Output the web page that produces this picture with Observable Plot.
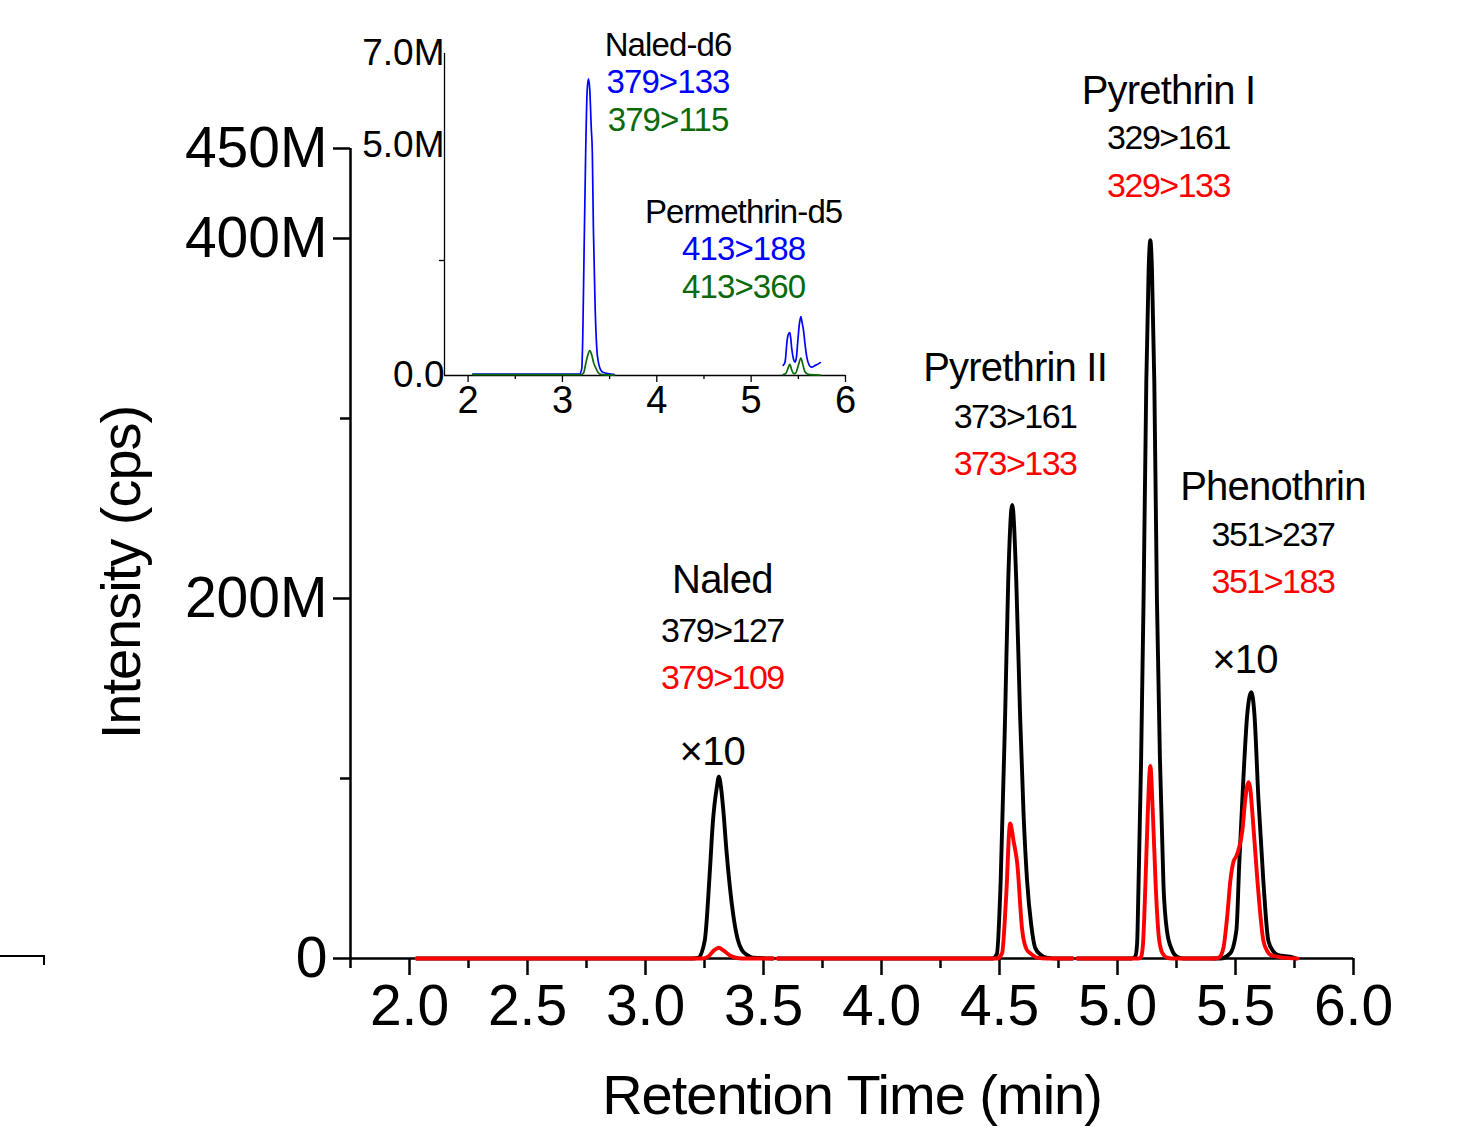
<!DOCTYPE html>
<html>
<head>
<meta charset="utf-8">
<script src="https://cdn.jsdelivr.net/npm/d3@7"></script>
<script src="https://cdn.jsdelivr.net/npm/@observablehq/plot@0.6"></script>
<style>
  html, body { margin: 0; padding: 0; background: white; }
  #wrap { position: relative; width: 1478px; height: 1129px; overflow: hidden; font-family: "Liberation Sans", Arial, sans-serif; }
  #main, #inset { position: absolute; left: 0; top: 0; }
  #wrap svg { font-family: "Liberation Sans", Arial, sans-serif; }
  #artifact { position: absolute; left: 0; top: 955px; width: 43px; height: 8px; border-top: 2px solid #000; border-right: 2px solid #000; }
</style>
</head>
<body>
<div id="wrap">
  <div id="main"></div>
  <div id="inset"></div>
  <div id="artifact"></div>
</div>
<script>
// ---------------- Main chart data (time in min, intensity in M cps) ----------------
const xMajorTicks = [2.0, 2.5, 3.0, 3.5, 4.0, 4.5, 5.0, 5.5, 6.0];
const xMinorTicks = [1.75, 2.25, 2.75, 3.25, 3.75, 4.25, 4.75, 5.25, 5.75];
const yMajorTicks = [0, 200, 400, 450];
const yMinorTicks = [100, 300];

// black trace (quantifier transitions), one array per acquisition window
const blackNaledWindow = [[2.03,0],[3.2,0],[3.222,0.3],[3.251,10],[3.272,47],[3.285,75],[3.302,95],[3.311,101],[3.32,95],[3.33,82],[3.343,60],[3.371,25],[3.39,11],[3.407,5],[3.43,2],[3.455,0.5],[3.54,0]];
const blackPyrethrinIIWindow = [[3.56,0],[4.47,0],[4.489,2.6],[4.505,43],[4.524,136],[4.537,210],[4.554,252],[4.571,210],[4.587,136],[4.602,80],[4.617,43],[4.635,18],[4.651,6],[4.675,2],[4.70,0.5],[4.75,0],[4.81,0]];
const blackPyrethrinIWindow = [[4.83,0],[5.06,0],[5.075,1],[5.083,8],[5.089,40],[5.10,110],[5.1105,200],[5.122,320],[5.132,383],[5.139,399],[5.146,383],[5.156,320],[5.167,200],[5.18,110],[5.195,40],[5.21,15],[5.23,5],[5.252,1],[5.28,0],[5.41,0]];
const blackPhenothrinWindow = [[5.41,0],[5.436,0],[5.478,3],[5.504,16],[5.516,53],[5.533,99],[5.55,136],[5.567,148],[5.58,136],[5.597,89],[5.618,43],[5.639,10],[5.66,4],[5.678,2],[5.745,0.5],[5.755,0]];

// red trace (qualifier transitions)
const redNaledWindow = [[2.03,0],[3.24,0],[3.265,1],[3.29,4.5],[3.31,6],[3.33,4.5],[3.36,1.5],[3.39,0.3],[3.42,0],[3.54,0]];
const redPyrethrinIIWindow = [[3.56,0],[4.49,0],[4.511,3],[4.528,34],[4.545,75],[4.56,65],[4.575,53],[4.596,16],[4.615,5],[4.63,3],[4.66,0.5],[4.70,0],[4.81,0]];
const redPyrethrinIWindow = [[4.83,0],[5.09,0],[5.10,1],[5.108,8],[5.118,40],[5.128,80],[5.139,107],[5.15,80],[5.162,40],[5.175,12],[5.19,3],[5.21,0.5],[5.23,0],[5.41,0]];
const redPhenothrinWindow = [[5.415,0],[5.43,0.5],[5.449,6],[5.466,25],[5.478,43],[5.492,54],[5.504,57],[5.516,62],[5.529,71],[5.542,89],[5.555,98],[5.562,95],[5.572,80],[5.593,43],[5.618,10],[5.635,4],[5.648,2],[5.70,0.5],[5.762,0]];

// annotations: [text, time, intensity]
const mainCompoundLabels = [["Naled",3.3256,210],["Pyrethrin II",4.566,328],["Pyrethrin I",5.216,482],["Phenothrin",5.6585,262]];
const mainQuantLabels = [["379>127",3.3256,182],["373>161",4.566,301],["329>161",5.216,456],["351>237",5.6585,235]];
const mainQualLabels = [["379>109",3.3256,155.5],["373>133",4.566,274.5],["329>133",5.216,429],["351>183",5.6585,209]];
const factorLabels = [["×10",3.283,114.5],["×10",5.54,166]];

// ---------------- Inset data (intensity in M cps) ----------------
const insetXMajorTicks = [2, 3, 4, 5, 6];
const insetXMinorTicks = [2.5, 3.5, 4.5, 5.5];
const insetYMajorTicks = [0, 5, 7];
const insetYMinorTicks = [2.5];

const blueNaledD6 = [[2.05,0.03],[3.18,0.03],[3.205,0.15],[3.215,0.8],[3.229,2.65],[3.246,4.82],[3.262,6.2],[3.276,6.45],[3.29,6.2],[3.305,5.4],[3.317,4.82],[3.328,3.2],[3.346,1.53],[3.37,0.44],[3.405,0.12],[3.43,0.07],[3.55,0.02]];
const bluePermethrinD5 = [[5.34,0.22],[5.36,0.3],[5.381,0.76],[5.395,0.9],[5.41,0.93],[5.42,0.8],[5.43,0.59],[5.45,0.35],[5.466,0.29],[5.48,0.4],[5.495,0.76],[5.51,1.1],[5.527,1.28],[5.54,1.15],[5.555,0.98],[5.57,0.7],[5.59,0.4],[5.61,0.25],[5.64,0.18],[5.68,0.22],[5.733,0.28]];
const greenNaledD6 = [[2.05,0.02],[3.2,0.02],[3.225,0.06],[3.246,0.25],[3.27,0.45],[3.29,0.54],[3.31,0.45],[3.33,0.28],[3.352,0.17],[3.39,0.04],[3.43,0.02],[3.55,0.01]];
const greenPermethrinD5 = [[5.34,0.02],[5.37,0.05],[5.395,0.18],[5.41,0.24],[5.43,0.12],[5.45,0.04],[5.47,0.05],[5.5,0.22],[5.527,0.38],[5.55,0.22],[5.57,0.08],[5.6,0.03],[5.62,0.02],[5.733,0.01]];

const insetCompoundLabels = [["Naled-d6",4.119,7.18],["Permethrin-d5",4.92,3.55]];
const insetQuantLabels = [["379>133",4.119,6.37],["413>188",4.92,2.74]];
const insetQualLabels = [["379>115",4.119,5.55],["413>360",4.92,1.92]];

// ---------------- helpers ----------------
const toRows = (segments) => segments.flatMap((seg, i) => seg.map(([t, v]) => ({t, v, seg: i})));
const toLabels = (arr) => arr.map(([label, t, v]) => ({label, t, v}));

const RED = "#ff0000", BLUE = "#0000ff", GREEN = "#0a6a0a";
const FONT = "Liberation Sans, Arial, sans-serif";

// letter-spacing by font size (the original lettering is slightly condensed)
const spacing = {"56": -1, "40": -0.8, "34": -1.5, "33": -0.9};
function condense(svg) {
  svg.querySelectorAll("g[font-size]").forEach(g => {
    const s = spacing[String(parseFloat(g.getAttribute("font-size")))];
    if (s !== undefined) g.style.letterSpacing = s + "px";
  });
}

const mainChart = Plot.plot({
  width: 1478, height: 1129,
  marginLeft: 350, marginRight: 125, marginTop: 148, marginBottom: 171,
  x: {domain: [1.75, 6.0], label: null},
  y: {domain: [0, 450], label: null},
  style: {fontFamily: FONT, background: "white", overflow: "visible", color: "black"},
  marks: [
    Plot.ruleY([0], {strokeWidth: 2.5}),
    Plot.ruleX([1.75], {strokeWidth: 2.5}),
    Plot.axisX(xMajorTicks, {tickSize: 17, tickPadding: 9, strokeWidth: 2.5, fontSize: 57, tickFormat: d => d.toFixed(1), label: null}),
    Plot.axisX(xMinorTicks, {tickSize: 10, strokeWidth: 2.5, tickFormat: () => "", label: null}),
    Plot.axisY(yMajorTicks, {tickSize: 17, tickPadding: 6, strokeWidth: 2.5, fontSize: 57, tickFormat: d => d === 0 ? "0" : d + "M", label: null}),
    Plot.axisY(yMinorTicks, {tickSize: 10, strokeWidth: 2.5, tickFormat: () => "", label: null}),
    Plot.line(toRows([blackNaledWindow, blackPyrethrinIIWindow, blackPyrethrinIWindow, blackPhenothrinWindow]),
      {x: "t", y: "v", z: "seg", stroke: "black", strokeWidth: 3.9, curve: "monotone-x"}),
    Plot.line(toRows([redNaledWindow, redPyrethrinIIWindow, redPyrethrinIWindow, redPhenothrinWindow]),
      {x: "t", y: "v", z: "seg", stroke: RED, strokeWidth: 3.9, curve: "monotone-x"}),
    Plot.text(toLabels(mainCompoundLabels), {x: "t", y: "v", text: "label", fill: "black", fontSize: 40}),
    Plot.text(toLabels(mainQuantLabels), {x: "t", y: "v", text: "label", fill: "black", fontSize: 34}),
    Plot.text(toLabels(mainQualLabels), {x: "t", y: "v", text: "label", fill: RED, fontSize: 34}),
    Plot.text(toLabels(factorLabels), {x: "t", y: "v", text: "label", fill: "black", fontSize: 40}),
    Plot.text(["Retention Time (min)"], {frameAnchor: "bottom", lineAnchor: "middle", textAnchor: "middle", dy: 138, fontSize: 56}),
    Plot.text(["Intensity (cps)"], {frameAnchor: "left", lineAnchor: "middle", textAnchor: "middle", rotate: -90, dx: -228, dy: 19, fontSize: 56})
  ]
});
condense(mainChart);
document.getElementById("main").appendChild(mainChart);

const insetChart = Plot.plot({
  width: 900, height: 450,
  marginLeft: 444, marginRight: 55, marginTop: 53, marginBottom: 75,
  x: {domain: [1.75, 6.0], label: null},
  y: {domain: [0, 7], label: null},
  style: {fontFamily: FONT, background: "transparent", overflow: "visible", color: "black"},
  marks: [
    Plot.ruleY([0], {strokeWidth: 1.3}),
    Plot.ruleX([1.75], {strokeWidth: 1.3}),
    Plot.axisX(insetXMajorTicks, {tickSize: 7, tickPadding: 4, strokeWidth: 1.3, fontSize: 38, tickFormat: d => String(d), label: null}),
    Plot.axisX(insetXMinorTicks, {tickSize: 4, strokeWidth: 1.3, tickFormat: () => "", label: null}),
    Plot.axisY(insetYMajorTicks, {tickSize: 0, tickPadding: 0, fontSize: 37, tickFormat: d => d === 0 ? "0.0" : d.toFixed(1) + "M", label: null}),
    Plot.axisY(insetYMinorTicks, {tickSize: 5, strokeWidth: 1.3, tickFormat: () => "", label: null}),
    Plot.line(toRows([blueNaledD6, bluePermethrinD5]), {x: "t", y: "v", z: "seg", stroke: BLUE, strokeWidth: 1.7, curve: "monotone-x"}),
    Plot.line(toRows([greenNaledD6, greenPermethrinD5]), {x: "t", y: "v", z: "seg", stroke: GREEN, strokeWidth: 1.7, curve: "monotone-x"}),
    Plot.text(toLabels(insetCompoundLabels), {x: "t", y: "v", text: "label", fill: "black", fontSize: 33}),
    Plot.text(toLabels(insetQuantLabels), {x: "t", y: "v", text: "label", fill: BLUE, fontSize: 33}),
    Plot.text(toLabels(insetQualLabels), {x: "t", y: "v", text: "label", fill: GREEN, fontSize: 33})
  ]
});
condense(insetChart);
document.getElementById("inset").appendChild(insetChart);
</script>
</body>
</html>
